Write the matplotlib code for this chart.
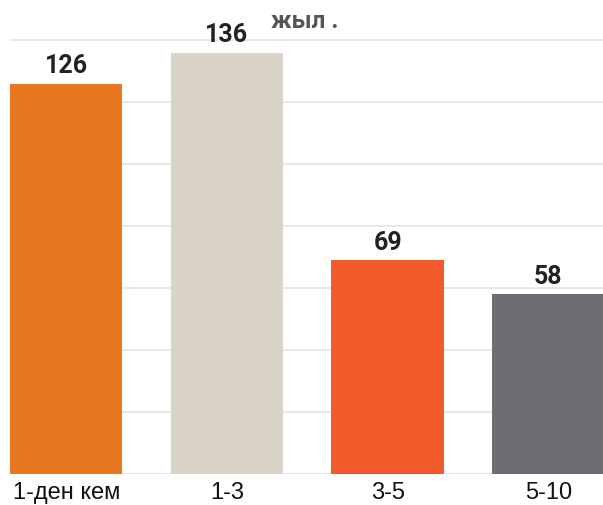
import numpy as np
import matplotlib
matplotlib.use("Agg")
import matplotlib.pyplot as plt

# data
categories = ['1-ден кем', '1-3', '3-5', '5-10']
values = [126, 136, 69, 58]
colors = ['#E87722', '#D9D4C7', '#F15A2B', '#6D6E71']
title = 'жыл .'

fig = plt.figure(figsize=(6.03, 5.06), dpi=100, facecolor='white')
ax = fig.add_axes([10/603, 1 - 475/506, 593/603, 440/506])

x = np.arange(len(categories))
ax.bar(x, values, width=0.7, color=colors, zorder=2)

ax.set_xlim(-0.35, 3.34)
ax.set_ylim(0, 142)
ax.set_yticks(np.arange(0, 141, 20))
ax.yaxis.grid(True, color='#e4e4e4', linewidth=1.2, zorder=0)
ax.tick_params(axis='y', left=False, labelleft=False)
ax.tick_params(axis='x', bottom=False, pad=1.5)
ax.set_xticks(x)
ax.set_xticklabels(categories, fontsize=17, family='Liberation Sans', color='#111111')
for s in ax.spines.values():
    s.set_visible(False)

# value labels above bars
for xi, v in zip(x, values):
    ax.annotate(str(v), (xi, v), xytext=(0, 4.5), textcoords='offset points',
                ha='center', va='bottom', fontsize=18, fontweight='bold',
                family='Roboto', color='#222222')

fig.text(305/603, 1 - 21.5/506, title, ha='center', va='center', fontsize=17.5,
         fontweight='bold', family='Roboto', color='#555555')

fig.savefig('out.png', dpi=100)
